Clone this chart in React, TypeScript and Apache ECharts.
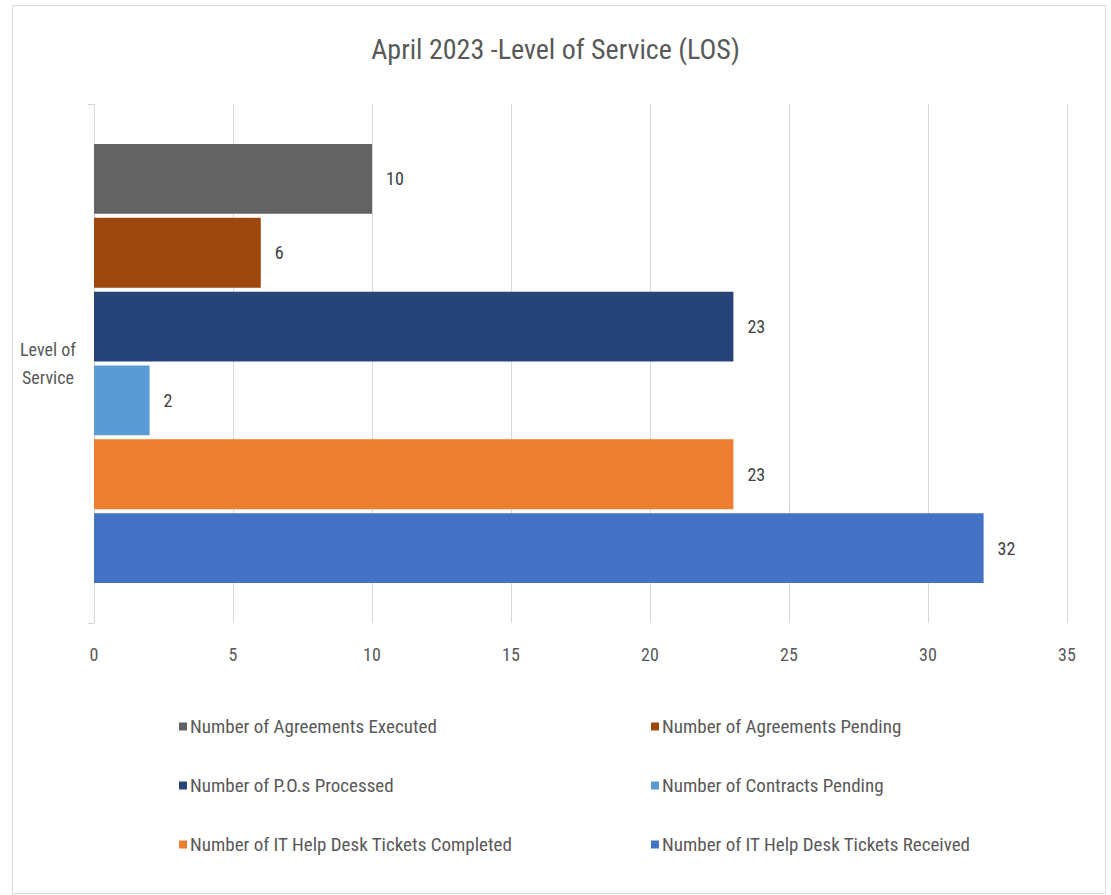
import React, { useEffect, useRef } from "react";
import * as echarts from "echarts";

const categories = ["Level of\nService"];
const seriesNames = [
  "Number of Agreements Executed",
  "Number of Agreements Pending",
  "Number of P.O.s Processed",
  "Number of Contracts Pending",
  "Number of IT Help Desk Tickets Completed",
  "Number of IT Help Desk Tickets Received",
];
const seriesValues = [10, 6, 23, 2, 23, 32];
const seriesColors = ["#636363", "#9E480E", "#264478", "#5B9BD5", "#ED7D31", "#4472C4"];
const xTicks = { min: 0, max: 35, interval: 5 };

const FONT = "'Liberation Sans Narrow', 'Arial Narrow', 'Roboto Condensed', sans-serif";

export default function App() {
  const ref = useRef<HTMLDivElement>(null);
  useEffect(() => {
    if (!ref.current) return;
    const chart = echarts.init(ref.current, undefined, { renderer: "svg" });
    const legendBase = {
      orient: "vertical",
      top: 712,
      itemGap: 40,
      itemWidth: 8,
      itemHeight: 8,
      icon: "rect",
      textStyle: { fontFamily: FONT, fontSize: 19, color: "#595959", padding: [0, 0, 0, -2] },
    };
    chart.setOption({
      animation: false,
      backgroundColor: "#ffffff",
      textStyle: { fontFamily: FONT },
      title: {
        text: "April 2023 -Level of Service (LOS)",
        left: "center",
        top: 30,
        textStyle: { fontFamily: FONT, fontSize: 28, fontWeight: "normal", color: "#595959" },
      },
      graphic: [
        {
          type: "rect",
          shape: { x: 12.5, y: 5.5, width: 1093, height: 888 },
          style: { fill: "none", stroke: "#d9d9d9", lineWidth: 1 },
          silent: true,
        },
      ],
      legend: [
        { ...legendBase, data: seriesNames.filter((_, i) => i % 2 === 0), left: 174 },
        { ...legendBase, data: seriesNames.filter((_, i) => i % 2 === 1), left: 646 },
      ],
      grid: { left: 94, right: 44, top: 104, bottom: 272, containLabel: false },
      xAxis: {
        type: "value",
        min: xTicks.min,
        max: xTicks.max,
        interval: xTicks.interval,
        axisLine: { show: false },
        axisTick: { show: false },
        splitLine: { show: true, lineStyle: { color: "#d9d9d9", width: 1 } },
        axisLabel: { color: "#595959", fontSize: 18, margin: 22, fontFamily: FONT },
      },
      yAxis: {
        type: "category",
        data: categories,
        axisLine: { show: true, lineStyle: { color: "#d9d9d9", width: 1 } },
        axisTick: { show: true, length: 6, lineStyle: { color: "#d9d9d9" } },
        axisLabel: {
          color: "#595959",
          fontSize: 18,
          align: "center",
          margin: 46,
          lineHeight: 28,
          fontFamily: FONT,
        },
      },
      series: seriesNames.map((name, i) => ({
        name,
        type: "bar",
        data: [seriesValues[i]],
        itemStyle: { color: seriesColors[i] },
        barGap: "5.7%",
        barCategoryGap: "15.4%",
        label: {
          show: true,
          position: "right",
          distance: 14,
          color: "#404040",
          fontSize: 18,
          fontFamily: FONT,
        },
      })),
    });
    return () => chart.dispose();
  }, []);
  return (
    <div
      ref={ref}
      style={{ position: "fixed", left: 0, top: 0, width: 1111, height: 895 }}
    />
  );
}
